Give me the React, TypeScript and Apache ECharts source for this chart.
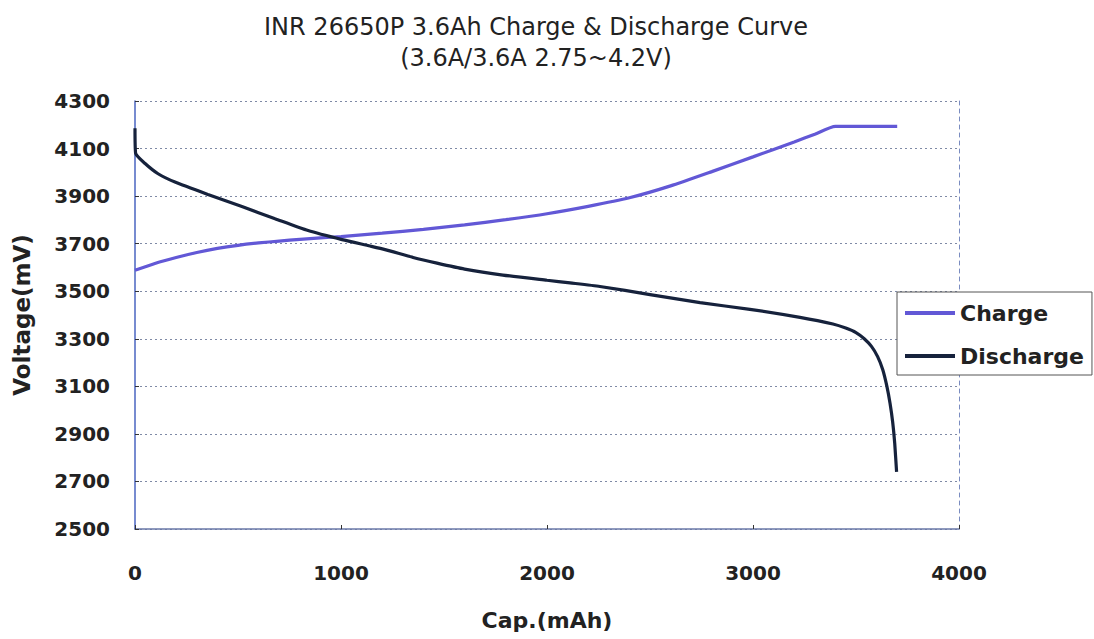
import React, { useEffect, useRef } from "react";
import * as echarts from "echarts";

const titleLine1 = "INR 26650P 3.6Ah Charge & Discharge Curve";
const titleLine2 = "(3.6A/3.6A 2.75~4.2V)";
const xName = "Cap.(mAh)";
const yName = "Voltage(mV)";

const chargeCap = [0, 100, 200, 300, 400, 500, 600, 700, 800, 900, 1000, 1200, 1400, 1600, 1800, 2000, 2200, 2400, 2600, 2800, 3000, 3200, 3300, 3400, 3700];
const chargeMv = [3588, 3618, 3642, 3663, 3680, 3693, 3703, 3711, 3718, 3724, 3730, 3744, 3760, 3779, 3801, 3826, 3857, 3893, 3943, 4003, 4065, 4128, 4160, 4193, 4193];

const dischargeCap = [0, 3, 49, 112, 194, 354, 519, 680, 840, 1005, 1141, 1214, 1350, 1466, 1600, 1786, 2000, 2112, 2257, 2500, 2743, 2985, 3228, 3388, 3450, 3500, 3540, 3575, 3605, 3630, 3650, 3665, 3678, 3688, 3697];
const dischargeMv = [4185, 4080, 4037, 3994, 3959, 3907, 3856, 3805, 3755, 3717, 3690, 3675, 3642, 3618, 3593, 3568, 3546, 3535, 3520, 3486, 3452, 3424, 3390, 3362, 3345, 3326, 3300, 3268, 3225, 3170, 3100, 3030, 2950, 2860, 2740];

const FONT = "DejaVu Sans";

export default function App() {
  const ref = useRef<HTMLDivElement>(null);
  useEffect(() => {
    if (!ref.current) return;
    const chart = echarts.init(ref.current, undefined, { renderer: "svg" });
    const charge = chargeCap.map((c, i) => [c, chargeMv[i]]);
    const discharge = dischargeCap.map((c, i) => [c, dischargeMv[i]]);
    const plain = (v: number) => String(v);
    chart.setOption({
      animation: false,
      backgroundColor: "#ffffff",
      title: {
        text: titleLine1,
        subtext: titleLine2,
        left: 536,
        top: 14,
        padding: 0,
        textAlign: "center",
        itemGap: 5,
        textStyle: { fontFamily: FONT, fontSize: 24, fontWeight: "normal", color: "#222", lineHeight: 26 },
        subtextStyle: { fontFamily: FONT, fontSize: 24, color: "#222", lineHeight: 26 },
      },
      legend: {
        orient: "vertical",
        left: 897,
        top: 292,
        padding: [9, 8, 7, 8],
        itemWidth: 50,
        itemHeight: 4,
        itemGap: 19,
        icon: "rect",
        borderColor: "#555",
        borderWidth: 1,
        backgroundColor: "#fff",
        textStyle: { fontFamily: FONT, fontSize: 22, fontWeight: "bold", color: "#222", lineHeight: 24 },
        data: ["Charge", "Discharge"],
      },
      grid: { left: 135, right: 135, top: 101, bottom: 110 },
      xAxis: {
        type: "value",
        min: 0,
        max: 4000,
        interval: 1000,
        name: xName,
        nameLocation: "middle",
        nameGap: 80,
        nameTextStyle: { fontFamily: FONT, fontSize: 22, fontWeight: "bold", color: "#222" },
        axisLine: { show: true, lineStyle: { color: "#6a78a8", width: 1.5 } },
        axisTick: { show: true, inside: true, length: 4, lineStyle: { color: "#333" } },
        axisLabel: { margin: 34, fontFamily: FONT, fontSize: 20, fontWeight: "bold", color: "#222", formatter: plain },
        splitLine: { show: false },
      },
      yAxis: [
        {
          type: "value",
          min: 2500,
          max: 4300,
          interval: 200,
          name: yName,
          nameLocation: "middle",
          nameRotate: 90,
          nameGap: 102,
          nameTextStyle: { fontFamily: FONT, fontSize: 23, fontWeight: "bold", color: "#222" },
          axisLine: { show: true, lineStyle: { color: "#4a64c0", width: 1.5 } },
          axisTick: { show: true, inside: true, length: 4, lineStyle: { color: "#333" } },
          axisLabel: { margin: 25, fontFamily: FONT, fontSize: 20, fontWeight: "bold", color: "#222", formatter: plain },
          splitLine: { show: true, lineStyle: { color: "#7f8aa6", width: 1.2, type: [2, 3] } },
        },
        {
          type: "value",
          position: "right",
          min: 2500,
          max: 4300,
          interval: 200,
          axisLine: { show: true, lineStyle: { color: "#7a8cc0", width: 1, type: [4, 4] } },
          axisTick: { show: false },
          axisLabel: { show: false },
          splitLine: { show: false },
        },
      ],
      series: [
        {
          name: "Charge",
          type: "line",
          data: charge,
          symbol: "none",
          smooth: 0.2,
          lineStyle: { color: "#6258d6", width: 3.2 },
          itemStyle: { color: "#6258d6" },
        },
        {
          name: "Discharge",
          type: "line",
          data: discharge,
          symbol: "none",
          smooth: 0.2,
          lineStyle: { color: "#16223c", width: 3.2 },
          itemStyle: { color: "#16223c" },
        },
      ],
    });
    return () => chart.dispose();
  }, []);
  return (
    <div
      ref={ref}
      style={{ position: "fixed", left: 0, top: 0, width: 1094, height: 639, background: "#fff" }}
    />
  );
}
